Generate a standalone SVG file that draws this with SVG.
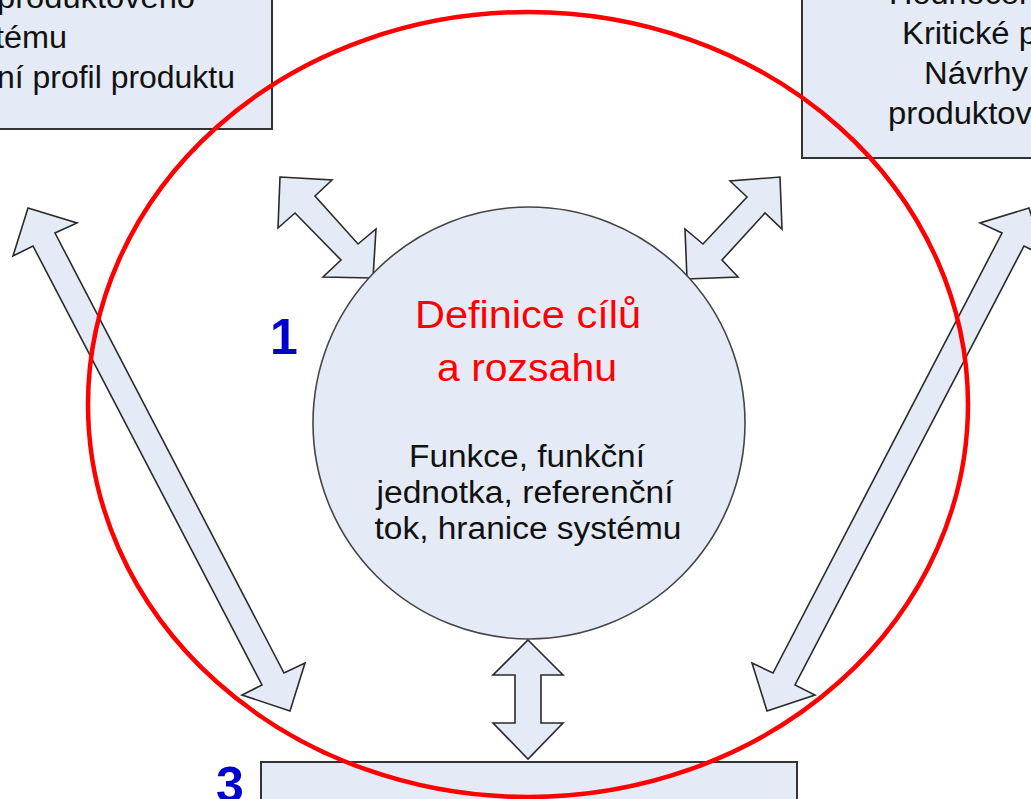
<svg xmlns="http://www.w3.org/2000/svg" width="1031" height="799" viewBox="0 0 1031 799">
<style>
.box{fill:#E5EBF6;stroke:#333;stroke-width:2}
.arr{fill:#E5EBF6;stroke:#2a2a2a;stroke-width:1.6;stroke-linejoin:miter}
.t{font-family:"Liberation Sans",Arial,sans-serif;font-size:31px;fill:#111}
.red{font-family:"Liberation Sans",Arial,sans-serif;font-size:38px;fill:#FF0000}
.num{font-family:"Liberation Sans",Arial,sans-serif;font-size:50px;font-weight:bold;fill:#0000CC}
</style>
<rect width="1031" height="799" fill="#fff"/>
<g id="box-top-left">
<rect class="box" x="-20" y="-20" width="292" height="149"/>
<text class="t" x="195" y="8" text-anchor="end" textLength="198" lengthAdjust="spacingAndGlyphs">produktového</text>
<text class="t" x="67" y="48" text-anchor="end" textLength="72" lengthAdjust="spacingAndGlyphs">tému</text>
<text class="t" x="235" y="88" text-anchor="end" textLength="238" lengthAdjust="spacingAndGlyphs">ní profil produktu</text>
</g>
<g id="box-top-right">
<rect class="box" x="802" y="-20" width="250" height="178"/>
<text class="t" x="889" y="4" textLength="157" lengthAdjust="spacingAndGlyphs">Hodnocení</text>
<text class="t" x="902" y="44" textLength="135" lengthAdjust="spacingAndGlyphs">Kritické p</text>
<text class="t" x="924" y="84" textLength="104" lengthAdjust="spacingAndGlyphs">Návrhy</text>
<text class="t" x="888" y="124" textLength="144" lengthAdjust="spacingAndGlyphs">produktov</text>
</g>
<g id="box-bottom">
<rect class="box" x="261" y="762" width="536" height="60"/>
</g>
<g id="label-3">
<text class="num" x="230" y="802" text-anchor="middle">3</text>
</g>
<g id="connectors">
<polygon class="arr" points="280,177 332,180 315,196 358,244 376,229 373,278 323,277 341,260 295,213 278,228"/>
<polygon class="arr" points="780,177 782,229 765,213 722,260 738,277 687,279 685,229 703,244 747,197 730,181"/>
<polygon class="arr" points="528,640 563,675 541,675 541,723 563,723 528,759 493,723 515,723 515,675 493,675"/>
<polygon class="arr" points="28,208 77,223 55,233 284,673 305,663 290,711 242,695 262,685 33,246 13,256"/>
<polygon class="arr" points="1029,208 980,223 1002,233 773,673 752,663 767,711 815,695 795,685 1024,246 1044,256"/>
</g>
<g id="node-1">
<circle cx="529" cy="423" r="216" fill="#E5EBF6" stroke="#444" stroke-width="1.6"/>
<text class="red" x="528" y="328" text-anchor="middle" textLength="226" lengthAdjust="spacingAndGlyphs">Definice cílů</text>
<text class="red" x="527" y="381" text-anchor="middle" textLength="180" lengthAdjust="spacingAndGlyphs">a rozsahu</text>
<text class="t" x="527" y="467" text-anchor="middle" textLength="236" lengthAdjust="spacingAndGlyphs">Funkce, funkční</text>
<text class="t" x="525" y="503" text-anchor="middle" textLength="297" lengthAdjust="spacingAndGlyphs">jednotka, referenční</text>
<text class="t" x="528" y="539" text-anchor="middle" textLength="307" lengthAdjust="spacingAndGlyphs">tok, hranice systému</text>
</g>
<g id="label-1">
<text class="num" x="284" y="354" text-anchor="middle">1</text>
</g>
<g id="highlight">
<ellipse cx="528" cy="404.5" rx="440" ry="392.5" fill="none" stroke="#FF0000" stroke-width="4.5"/>
</g>
</svg>
